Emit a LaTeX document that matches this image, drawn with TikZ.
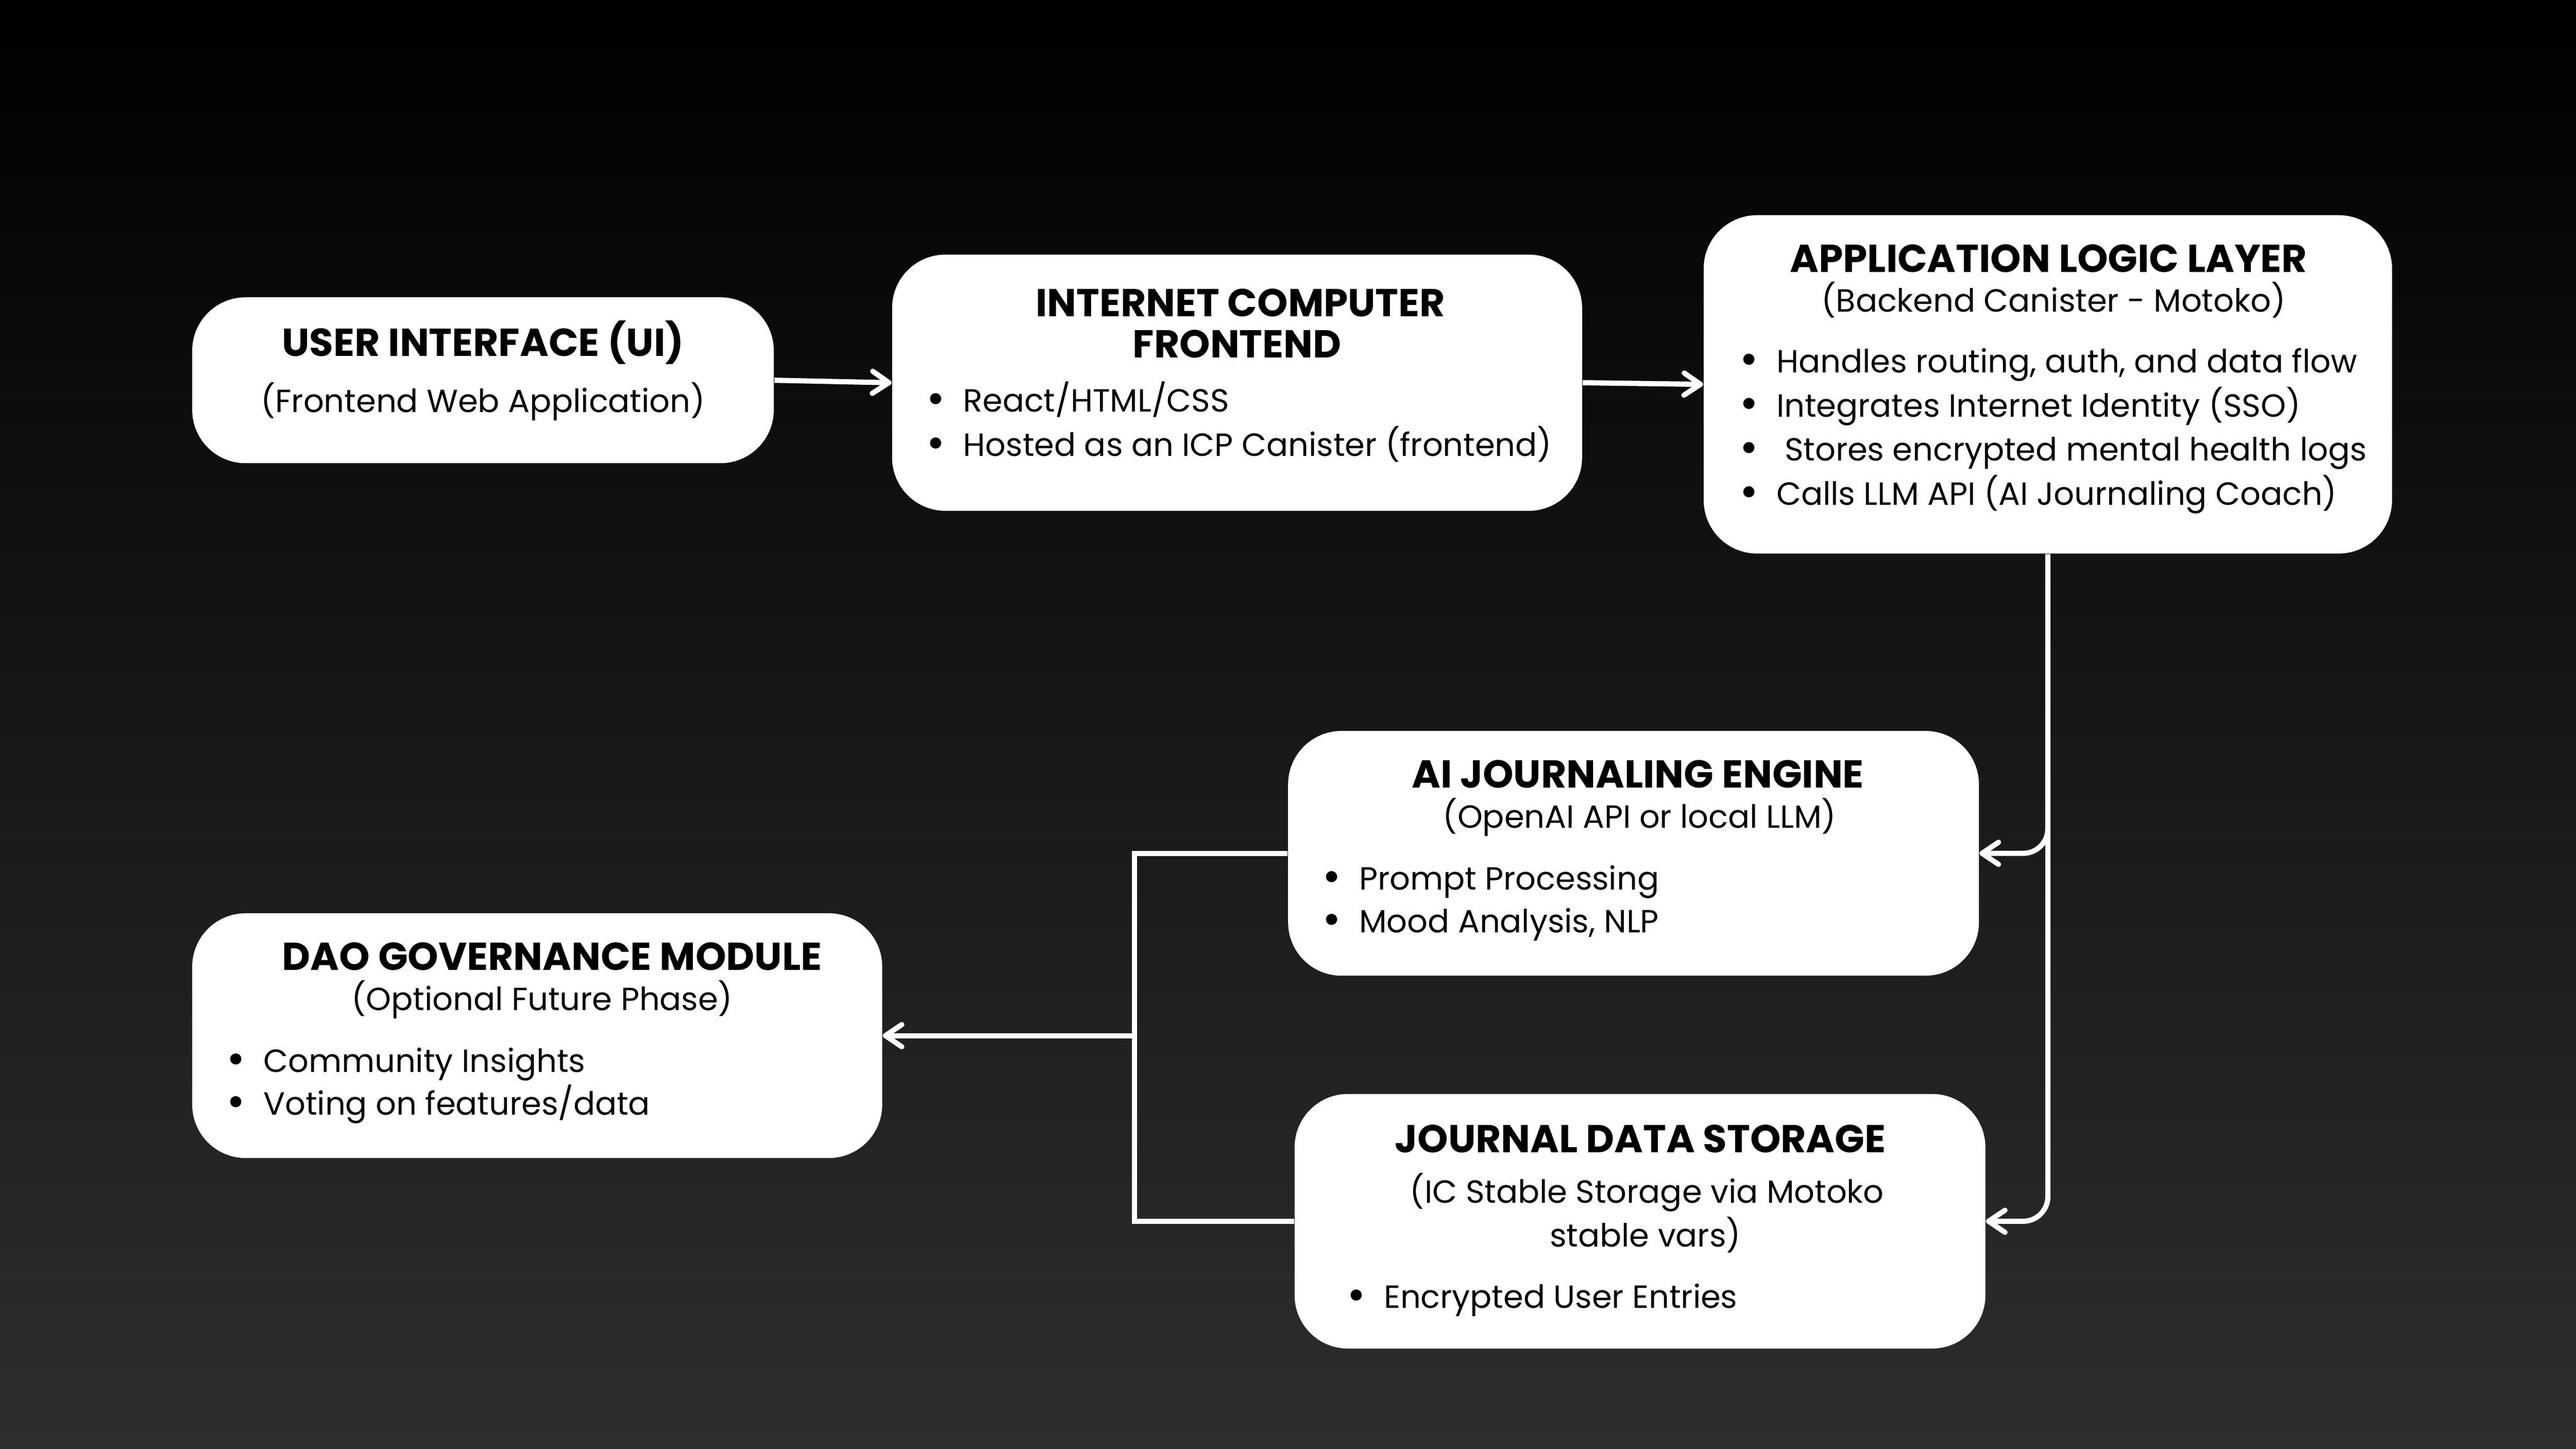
\documentclass[tikz,border=0pt]{standalone}
\usepackage{fontspec}
\setmainfont{Poppins}
\usetikzlibrary{arrows.meta}
\definecolor{bgbot}{RGB}{46,46,46}

\tikzset{
    box/.style={fill=white, rounded corners=0.65cm, inner sep=0pt},
    ttl/.style={anchor=base, inner sep=0pt, font=\fontsize{13.5}{14}\selectfont\bfseries},
    subttl/.style={anchor=base, inner sep=0pt, font=\fontsize{11.1}{13}\selectfont},
    itemtext/.style={anchor=base west, inner sep=0pt, font=\fontsize{11.1}{13}\selectfont},
    wire/.style={draw=white, line width=1.8pt},
}

\begin{document}
\begin{tikzpicture}[>={Straight Barb[length=0.2cm, width=0.27cm, round]}]
        \shade[top color=black, bottom color=bgbot] (0, 0) rectangle (31.36, -17.64);

        \newcommand{\bulletitem}[4]{
            \node[itemtext] (#1) at (#2, #3) {#4};
            \fill ([xshift=-0.33cm, yshift=0.162cm]#1.base west) circle (0.068);
        }

        \node[box, minimum width=7.08cm, minimum height=2.02cm] (ui) at (5.88, -4.63) {};
        \node[box, minimum width=8.40cm, minimum height=3.12cm] (icf) at (15.06, -4.66) {};
        \node[box, minimum width=8.38cm, minimum height=4.12cm] (all) at (24.93, -4.68) {};
        \node[box, minimum width=8.41cm, minimum height=2.98cm] (aij) at (19.886, -10.39) {};
        \node[box, minimum width=8.40cm, minimum height=2.98cm] (dao) at (6.54, -12.61) {};
        \node[box, minimum width=8.41cm, minimum height=3.10cm] (jds) at (19.965, -14.87) {};

        \node[ttl] (ui-t) at (5.88, -4.334) {USER INTERFACE (UI)};
        \node[subttl] (ui-s) at (5.88, -5.02) {(Frontend Web Application)};

        \node[ttl] (icf-t1) at (15.10, -3.854) {INTERNET COMPUTER};
        \node[ttl] (icf-t2) at (15.06, -4.354) {FRONTEND};
        \bulletitem{icf-1}{11.72}{-5.016}{React/HTML/CSS}
        \bulletitem{icf-2}{11.72}{-5.556}{Hosted as an ICP Canister (frontend)}

        \node[ttl] (all-t) at (24.94, -3.314) {APPLICATION LOGIC LAYER};
        \node[subttl] (all-s) at (25.00, -3.80) {(Backend Canister - Motoko)};
        \bulletitem{all-1}{21.62}{-4.536}{Handles routing, auth, and data flow}
        \bulletitem{all-2}{21.62}{-5.074}{Integrates Internet Identity (SSO)}
        \bulletitem{all-3}{21.62}{-5.612}{\hspace{0.1cm}Stores encrypted mental health logs}
        \bulletitem{all-4}{21.62}{-6.150}{Calls LLM API (AI Journaling Coach)}

        \node[ttl] (aij-t) at (19.94, -9.594) {AI JOURNALING ENGINE};
        \node[subttl] (aij-s) at (19.96, -10.08) {(OpenAI API or local LLM)};
        \bulletitem{aij-1}{16.54}{-10.836}{Prompt Processing}
        \bulletitem{aij-2}{16.54}{-11.356}{Mood Analysis, NLP}

        \node[ttl] (dao-t) at (6.72, -11.814) {DAO GOVERNANCE MODULE};
        \node[subttl] (dao-s) at (6.60, -12.30) {(Optional Future Phase)};
        \bulletitem{dao-1}{3.20}{-13.056}{Community Insights}
        \bulletitem{dao-2}{3.20}{-13.576}{Voting on features/data}

        \node[ttl] (jds-t) at (19.97, -14.032) {JOURNAL DATA STORAGE};
        \node[subttl] (jds-s1) at (20.05, -14.65) {(IC Stable Storage via Motoko};
        \node[subttl] (jds-s2) at (20.03, -15.18) {stable vars)};
        \bulletitem{jds-1}{16.84}{-15.93}{Encrypted User Entries}

        \coordinate (bus) at (13.81, -12.61);

        \draw[wire, ->] (ui.east) -- (icf.west);
        \draw[wire, ->] (icf.east) -- (all.west);
        \draw[wire, ->, rounded corners=0.3cm] (all.south) |- (aij.east);
        \draw[wire, ->, rounded corners=0.3cm] (all.south) |- (jds.east);
        \draw[wire] (aij.west) -| (bus) |- (jds.west);
        \draw[wire, ->] (bus) -- (dao.east);
\end{tikzpicture}
\end{document}
